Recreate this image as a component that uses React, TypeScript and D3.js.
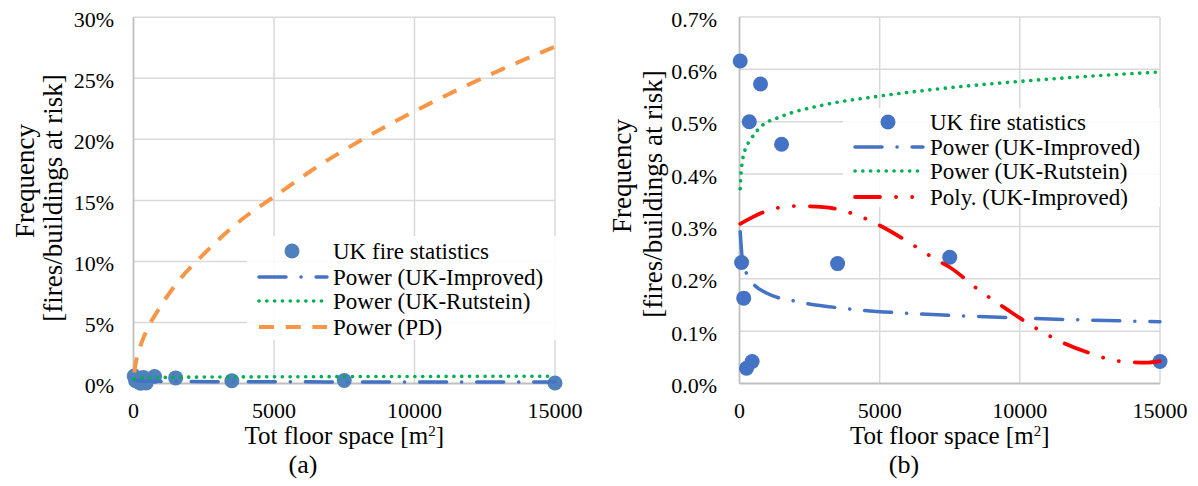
import React from 'react';
import * as d3 from 'd3';

// UK fire statistics (floor space m2, frequency in %)
const floorSpace = [25, 75, 150, 250, 350, 450, 750, 1500, 3500, 7500, 15000];
const fireFreq = [0.616, 0.231, 0.163, 0.029, 0.5, 0.042, 0.572, 0.457, 0.229, 0.241, 0.042];

// trend lines
const improvedX = [25, 100, 250, 500, 1000, 2000, 4000, 6000, 8000, 10000, 12500, 15000];
const improvedY = [0.29, 0.238, 0.21, 0.19, 0.172, 0.157, 0.142, 0.134, 0.129, 0.125, 0.121, 0.118];

const rutsteinX = [25, 60, 200, 350, 750, 1500, 3000, 5000, 7500, 10000, 12500, 15000];
const rutsteinY = [0.372, 0.405, 0.447, 0.462, 0.49, 0.51, 0.532, 0.549, 0.565, 0.577, 0.587, 0.595];

const pdX = [25, 100, 200, 400, 900, 1500, 2500, 4000, 5000, 6500, 8000, 10000, 12500, 15000];
const pdY = [0.9, 1.9, 2.75, 4.0, 6.1, 8.1, 10.6, 13.7, 15.3, 17.7, 19.8, 22.3, 25.1, 27.6];

const polyX = [25, 1000, 2000, 3000, 4000, 5000, 6000, 7000, 7500, 8500, 9500, 10500, 11500, 12500, 13500, 14500, 15000];
const polyY = [0.305, 0.33, 0.339, 0.337, 0.325, 0.302, 0.271, 0.237, 0.222, 0.18, 0.143, 0.108, 0.079, 0.058, 0.043, 0.04, 0.043];

const xTicks = [0, 5000, 10000, 15000];
const yTicksA = [0, 5, 10, 15, 20, 25, 30];
const yTicksB = [0, 0.1, 0.2, 0.3, 0.4, 0.5, 0.6, 0.7];

const FONT = "'Liberation Serif'";

const styles = {
  improved: { stroke: '#4472C4', dash: '27 15 0.1 15', width: 3.5, cap: 'round' },
  rutstein: { stroke: '#00B050', dash: '0.1 7.7', width: 3.6, cap: 'round' },
  pd: { stroke: '#F79646', dash: '15 11.7', width: 4, cap: 'butt' },
  poly: { stroke: '#FF0000', dash: '25 16 0.1 16 0.1 16', width: 3.8, cap: 'round' },
};

const zip = (xs, ys) => xs.map((x, i) => [x, ys[i]]);

const Panel = ({ xRange, yMax, yTop, ticks, fmt, tickRight, titleX, titleY, caption, captionX, markerColor, lines, legend, legendBox }) => {
  const x = d3.scaleLinear().domain([0, 15000]).range(xRange);
  const y = d3.scaleLinear().domain([0, yMax]).range([383.5, yTop]);
  const line = d3.line().x(d => x(d[0])).y(d => y(d[1])).curve(d3.curveMonotoneX);
  const cx = (xRange[0] + xRange[1]) / 2;
  const tf = { fontFamily: FONT };

  return (
    <g fill="#000">
      {/* gridlines */}
      {ticks.slice(1).map(t => (
        <line key={'h' + t} x1={xRange[0]} x2={xRange[1]} y1={y(t)} y2={y(t)} stroke="#d9d9d9" strokeWidth={1.5} />
      ))}
      {xTicks.slice(1).map(t => (
        <line key={'v' + t} x1={x(t)} x2={x(t)} y1={y(0)} y2={yTop} stroke="#d9d9d9" strokeWidth={1.5} />
      ))}
      <line x1={xRange[0]} x2={xRange[1]} y1={y(0)} y2={y(0)} stroke="#bfbfbf" strokeWidth={1.8} />
      <line x1={xRange[0]} x2={xRange[0]} y1={y(0)} y2={yTop} stroke="#bfbfbf" strokeWidth={1.8} />

      {/* tick labels */}
      {ticks.map(t => (
        <text key={'yl' + t} x={tickRight} y={y(t) + 2} textAnchor="end" dominantBaseline="central" fontSize={22} style={tf}>
          {fmt(t)}
        </text>
      ))}
      {xTicks.map(t => (
        <text key={'xl' + t} x={x(t)} y={418} textAnchor="middle" fontSize={22} style={tf}>
          {t}
        </text>
      ))}

      {/* axis titles */}
      <text x={cx} y={444} textAnchor="middle" fontSize={25} style={tf}>
        Tot floor space [m<tspan dy={-8} fontSize={15}>2</tspan><tspan dy={8}>]</tspan>
      </text>
      <text x={captionX} y={473} textAnchor="middle" fontSize={26} style={tf}>{caption}</text>
      <g transform={`translate(${titleX[0]},${titleY[0]}) rotate(-90)`}>
        <text textAnchor="middle" dominantBaseline="central" fontSize={27} style={tf}>Frequency</text>
      </g>
      <g transform={`translate(${titleX[1]},${titleY[1]}) rotate(-90)`}>
        <text textAnchor="middle" dominantBaseline="central" fontSize={27} style={tf}>[fires/buildings at risk]</text>
      </g>

      {/* data */}
      {floorSpace.map((f, i) => (
        <circle key={'p' + i} cx={x(f)} cy={y(fireFreq[i])} r={7.5} fill={markerColor} />
      ))}
      {lines.map(l => {
        const s = styles[l.key];
        return (
          <path key={l.key} d={line(l.data)} fill="none" stroke={s.stroke} strokeWidth={s.width}
            strokeDasharray={s.dash} strokeLinecap={s.cap} />
        );
      })}

      {/* legend */}
      <rect x={legendBox[0]} y={legendBox[1]} width={legendBox[2]} height={legendBox[3]} fill="#fff" fillOpacity={0.85} />
      {legend.rows.map((r, i) => {
        const ry = legend.y[i];
        const [s0, s1] = legend.sample;
        if (r.key === 'marker') {
          return (
            <g key={'lg' + i}>
              <circle cx={(s0 + s1) / 2} cy={ry} r={7.5} fill={markerColor} />
              <text x={legend.textX} y={ry} dominantBaseline="central" fontSize={23} style={tf}>{r.label}</text>
            </g>
          );
        }
        const s = styles[r.key];
        return (
          <g key={'lg' + i}>
            <line x1={s0 + 2} x2={s1} y1={ry} y2={ry} stroke={s.stroke} strokeWidth={s.width}
              strokeDasharray={s.dash} strokeLinecap={s.cap} />
            <text x={legend.textX} y={ry} dominantBaseline="central" fontSize={23} style={tf}>{r.label}</text>
          </g>
        );
      })}
    </g>
  );
};

export default function App() {
  return (
    <svg width={1198} height={486} style={{ position: 'absolute', left: 0, top: 0, background: '#fff' }}>
      <Panel
        xRange={[133.5, 555]}
        yMax={30}
        yTop={17.3}
        ticks={yTicksA}
        fmt={v => `${v}%`}
        tickRight={114}
        titleX={[25, 53]}
        titleY={[181, 198]}
        caption="(a)"
        captionX={303}
        markerColor="#4F81BD"
        lines={[
          { key: 'improved', data: zip(improvedX, improvedY) },
          { key: 'rutstein', data: zip(rutsteinX, rutsteinY) },
          { key: 'pd', data: zip(pdX, pdY) },
        ]}
        legendBox={[247, 236, 310, 104]}
        legend={{
          sample: [257, 327],
          textX: 333,
          y: [251, 277, 301, 327],
          rows: [
            { key: 'marker', label: 'UK fire statistics' },
            { key: 'improved', label: 'Power (UK-Improved)' },
            { key: 'rutstein', label: 'Power (UK-Rutstein)' },
            { key: 'pd', label: 'Power (PD)' },
          ],
        }}
      />
      <Panel
        xRange={[739.5, 1160]}
        yMax={0.7}
        yTop={17}
        ticks={yTicksB}
        fmt={v => `${v.toFixed(1)}%`}
        tickRight={717}
        titleX={[622, 653]}
        titleY={[176, 194]}
        caption="(b)"
        captionX={904}
        markerColor="#4472C4"
        lines={[
          { key: 'improved', data: zip(improvedX, improvedY) },
          { key: 'rutstein', data: zip(rutsteinX, rutsteinY) },
          { key: 'poly', data: zip(polyX, polyY) },
        ]}
        legendBox={[843, 108, 317, 99]}
        legend={{
          sample: [853, 923],
          textX: 930,
          y: [122, 147, 171, 197],
          rows: [
            { key: 'marker', label: 'UK fire statistics' },
            { key: 'improved', label: 'Power (UK-Improved)' },
            { key: 'rutstein', label: 'Power (UK-Rutstein)' },
            { key: 'poly', label: 'Poly. (UK-Improved)' },
          ],
        }}
      />
    </svg>
  );
}
